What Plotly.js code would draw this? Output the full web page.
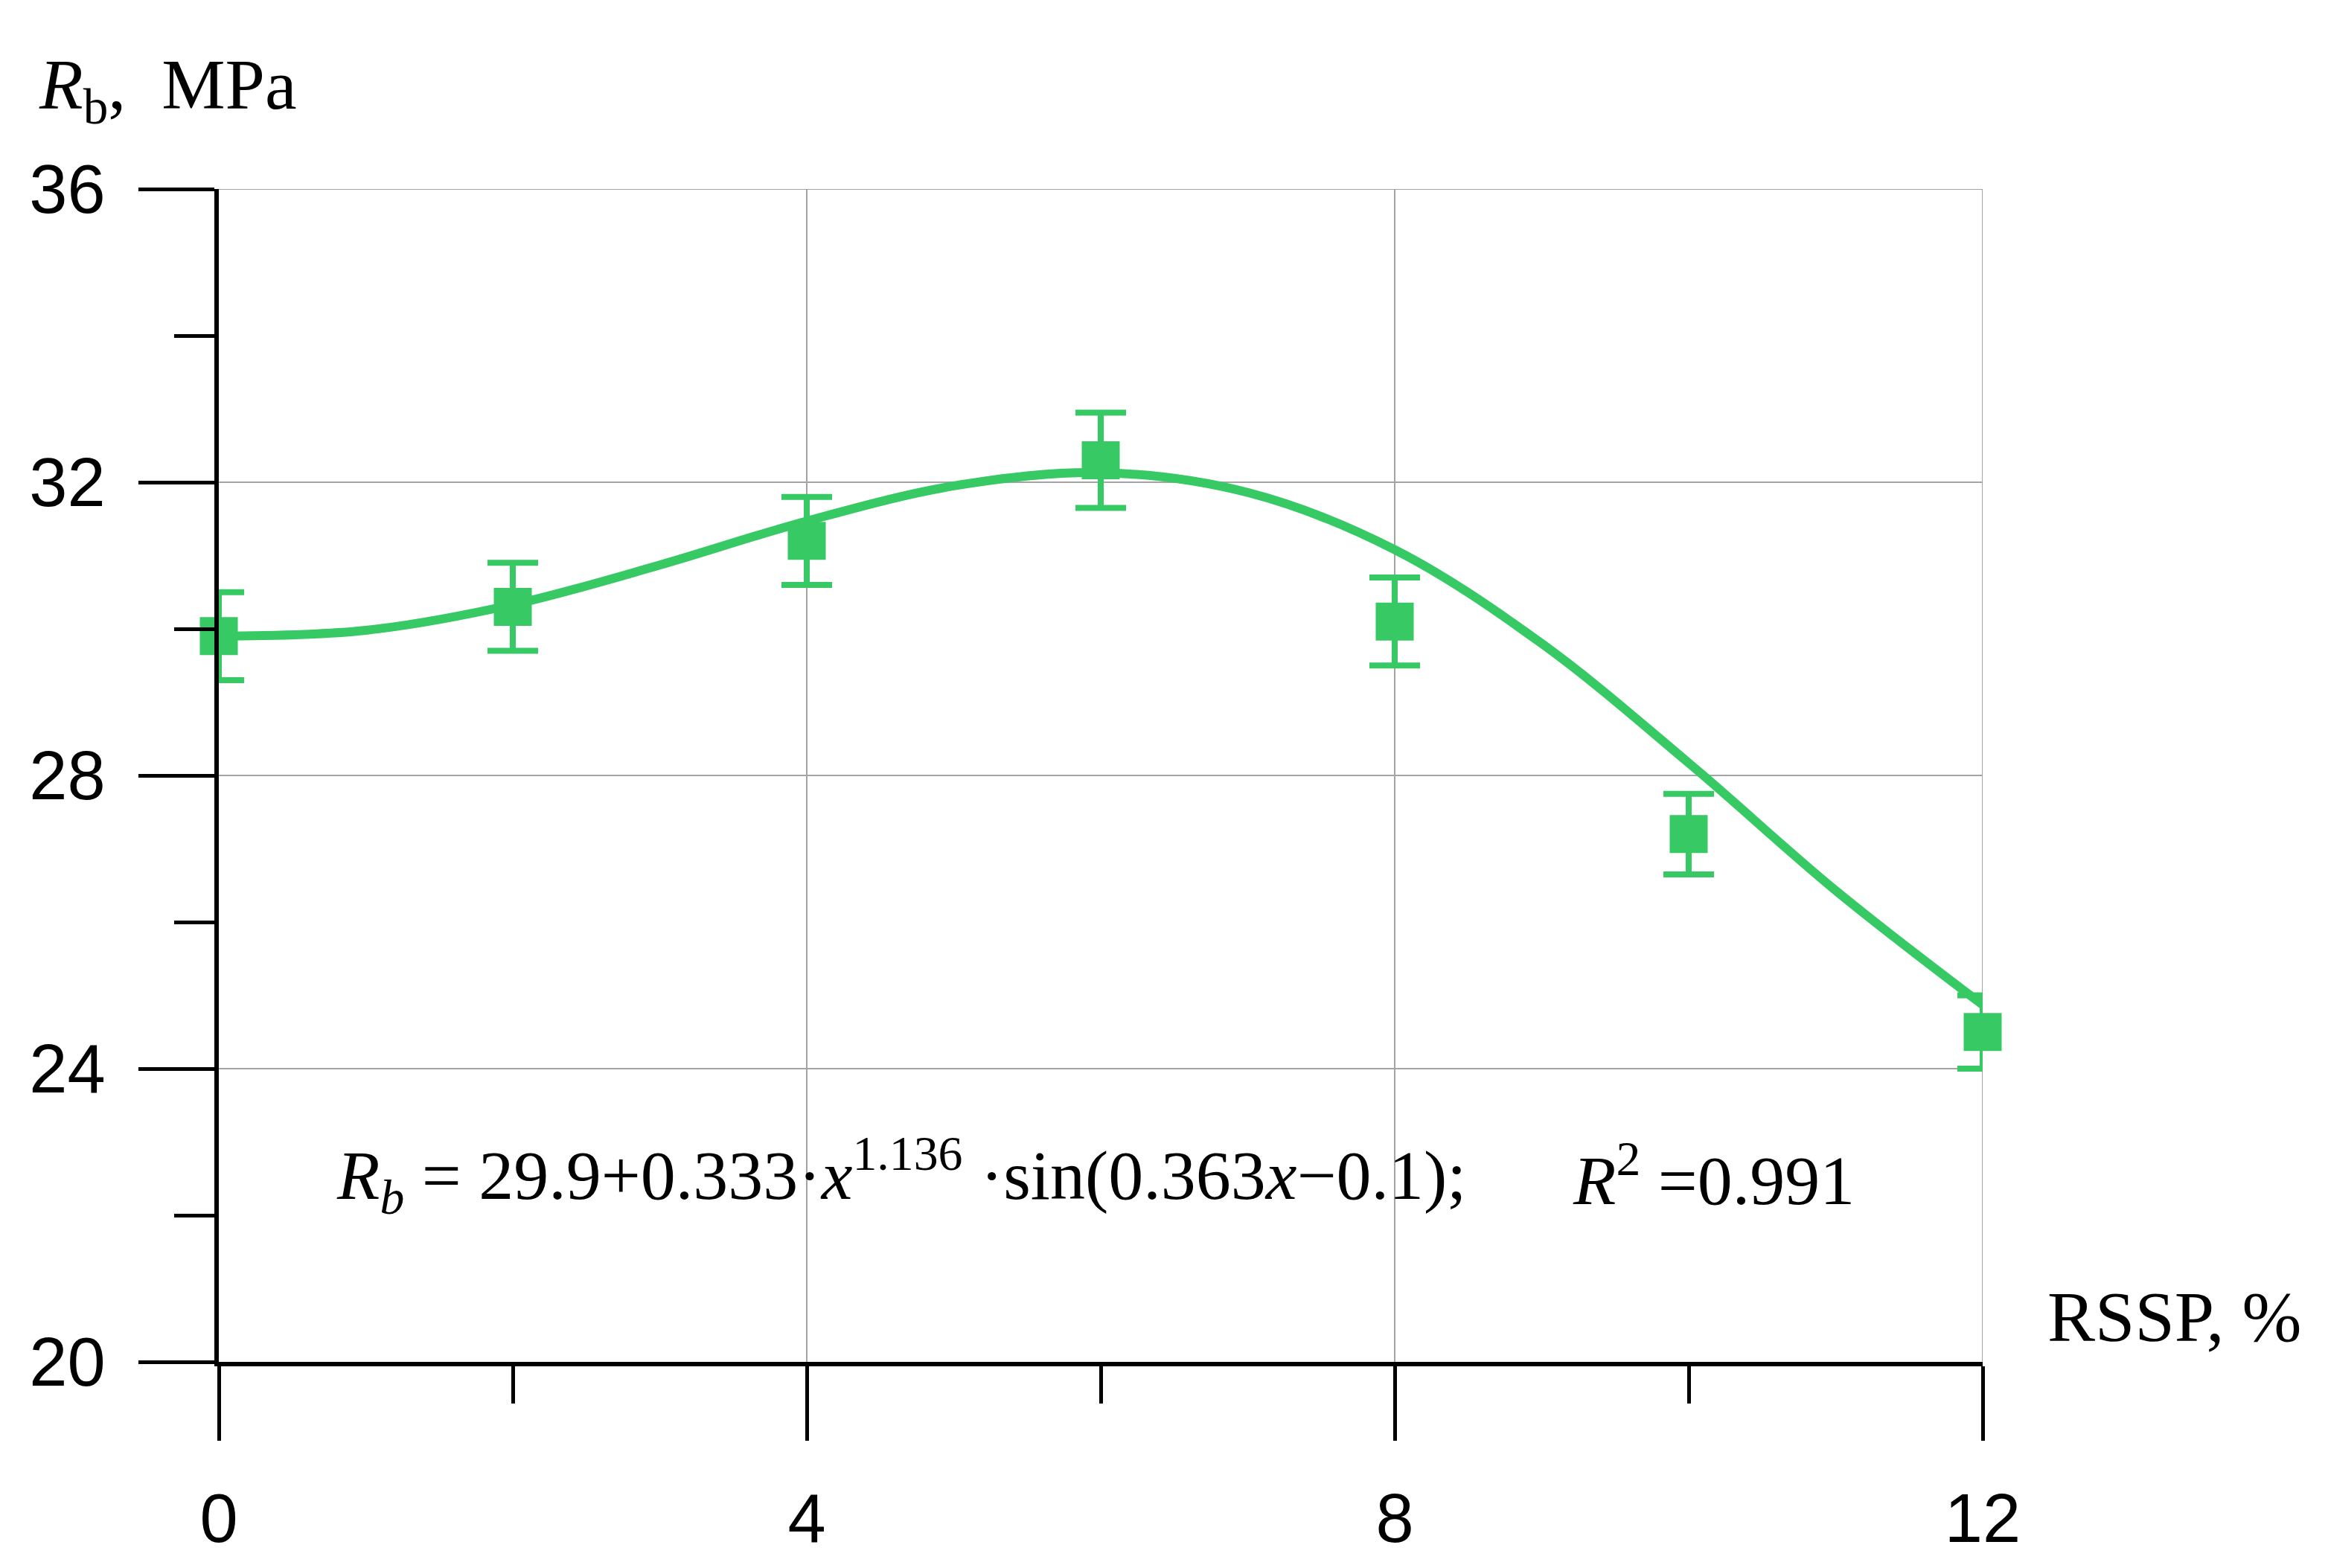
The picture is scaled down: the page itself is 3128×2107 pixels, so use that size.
<!DOCTYPE html>
<html>
<head>
<meta charset="utf-8">
<script src="https://cdn.plot.ly/plotly-3.0.1.min.js"></script>
<style>
  body { margin: 0; background: #fff; }
  #chart { width: 3128px; height: 2107px; }
</style>
</head>
<body>
<div id="chart"></div>
<script>
// measured points (RSSP content, %) and strength with error
const rssp = [0, 2, 4, 6, 8, 10, 12];
const strength = [29.9, 30.3, 31.2, 32.3, 30.1, 27.2, 24.5];
const strengthErr = [0.6, 0.6, 0.6, 0.65, 0.6, 0.55, 0.5];

// fitted curve
const fitX = [0, 1, 2, 3, 4, 5, 6, 7, 8, 9, 10, 11, 12];
const fitY = [29.9, 29.98, 30.33, 30.87, 31.47, 31.95, 32.13, 31.86, 31.08, 29.8, 28.17, 26.43, 24.87];

const xRange = [0, 12];
const yRange = [20, 36];

const green = '#36c964';
const gridColor = '#a4a4a4';
const serif = 'Liberation Serif, Times New Roman, serif';
const sans = 'Liberation Sans, Arial, sans-serif';

const fitTrace = {
    x: fitX,
    y: fitY,
    type: 'scatter',
    mode: 'lines',
    line: { color: green, width: 12, shape: 'spline', smoothing: 1 },
    cliponaxis: false,
    hoverinfo: 'skip'
};

const pointTrace = {
    x: rssp,
    y: strength,
    type: 'scatter',
    mode: 'markers',
    cliponaxis: false,
    marker: { symbol: 'square', size: 51, color: green },
    error_y: {
        type: 'data',
        array: strengthErr,
        visible: true,
        color: green,
        thickness: 8,
        width: 34
    }
};

const layout = {
    width: 3128,
    height: 2107,
    showlegend: false,
    paper_bgcolor: '#fff',
    plot_bgcolor: '#fff',
    margin: { l: 294, r: 464, t: 254, b: 277 },
    xaxis: {
        range: xRange,
        dtick: 4,
        tick0: 0,
        ticks: 'outside',
        ticklen: 100,
        tickwidth: 5,
        tickcolor: '#000',
        showline: true,
        linecolor: '#000',
        linewidth: 6,
        showgrid: true,
        gridcolor: gridColor,
        gridwidth: 2,
        zeroline: false,
        ticklabelstandoff: 26,
        tickfont: { family: sans, size: 92, color: '#000' },
        minor: { dtick: 2, ticks: 'outside', ticklen: 50, tickwidth: 5, tickcolor: '#000', showgrid: false }
    },
    yaxis: {
        range: yRange,
        dtick: 4,
        tick0: 20,
        ticks: 'outside',
        ticklen: 102,
        tickwidth: 5,
        tickcolor: '#000',
        showline: true,
        linecolor: '#000',
        linewidth: 6,
        showgrid: true,
        gridcolor: gridColor,
        gridwidth: 2,
        zeroline: false,
        ticklabelstandoff: 26,
        tickfont: { family: sans, size: 92, color: '#000' },
        minor: { dtick: 2, ticks: 'outside', ticklen: 54, tickwidth: 5, tickcolor: '#000', showgrid: false }
    },
    // plotly leaves out the grid lines on the far edges, so draw them
    shapes: [
        {
            type: 'line', xref: 'x', yref: 'y', layer: 'below',
            x0: xRange[0], x1: xRange[1], y0: yRange[1], y1: yRange[1],
            line: { color: gridColor, width: 2 }
        },
        {
            type: 'line', xref: 'x', yref: 'y', layer: 'below',
            x0: xRange[1], x1: xRange[1], y0: yRange[0], y1: yRange[1],
            line: { color: gridColor, width: 2 }
        }
    ],
    annotations: [
        {
            xref: 'paper', yref: 'paper',
            x: -0.103, y: 1.045,
            xanchor: 'left', yanchor: 'bottom',
            showarrow: false,
            text: '<i>R</i><sub>b</sub>,  MPa',
            font: { family: serif, size: 96, color: '#000' }
        },
        {
            xref: 'paper', yref: 'y',
            x: 1.036, y: 20.05,
            xanchor: 'left', yanchor: 'bottom',
            showarrow: false,
            text: 'RSSP, %',
            font: { family: serif, size: 96, color: '#000' }
        },
        {
            xref: 'x', yref: 'y',
            x: 0.79, y: 22.55,
            xanchor: 'left', yanchor: 'middle',
            showarrow: false,
            text: '<i>R</i><sub><i>b</i></sub> = 29.9+0.333·<i>x</i><sup>1.136</sup> ·sin(0.363<i>x</i>−0.1);',
            font: { family: serif, size: 94, color: '#000' }
        },
        {
            xref: 'x', yref: 'y',
            x: 9.2, y: 22.55,
            xanchor: 'left', yanchor: 'middle',
            showarrow: false,
            text: '<i>R</i><sup>2</sup> =0.991',
            font: { family: serif, size: 94, color: '#000' }
        }
    ]
};

Plotly.newPlot('chart', [fitTrace, pointTrace], layout, { displayModeBar: false, staticPlot: true });
</script>
</body>
</html>
